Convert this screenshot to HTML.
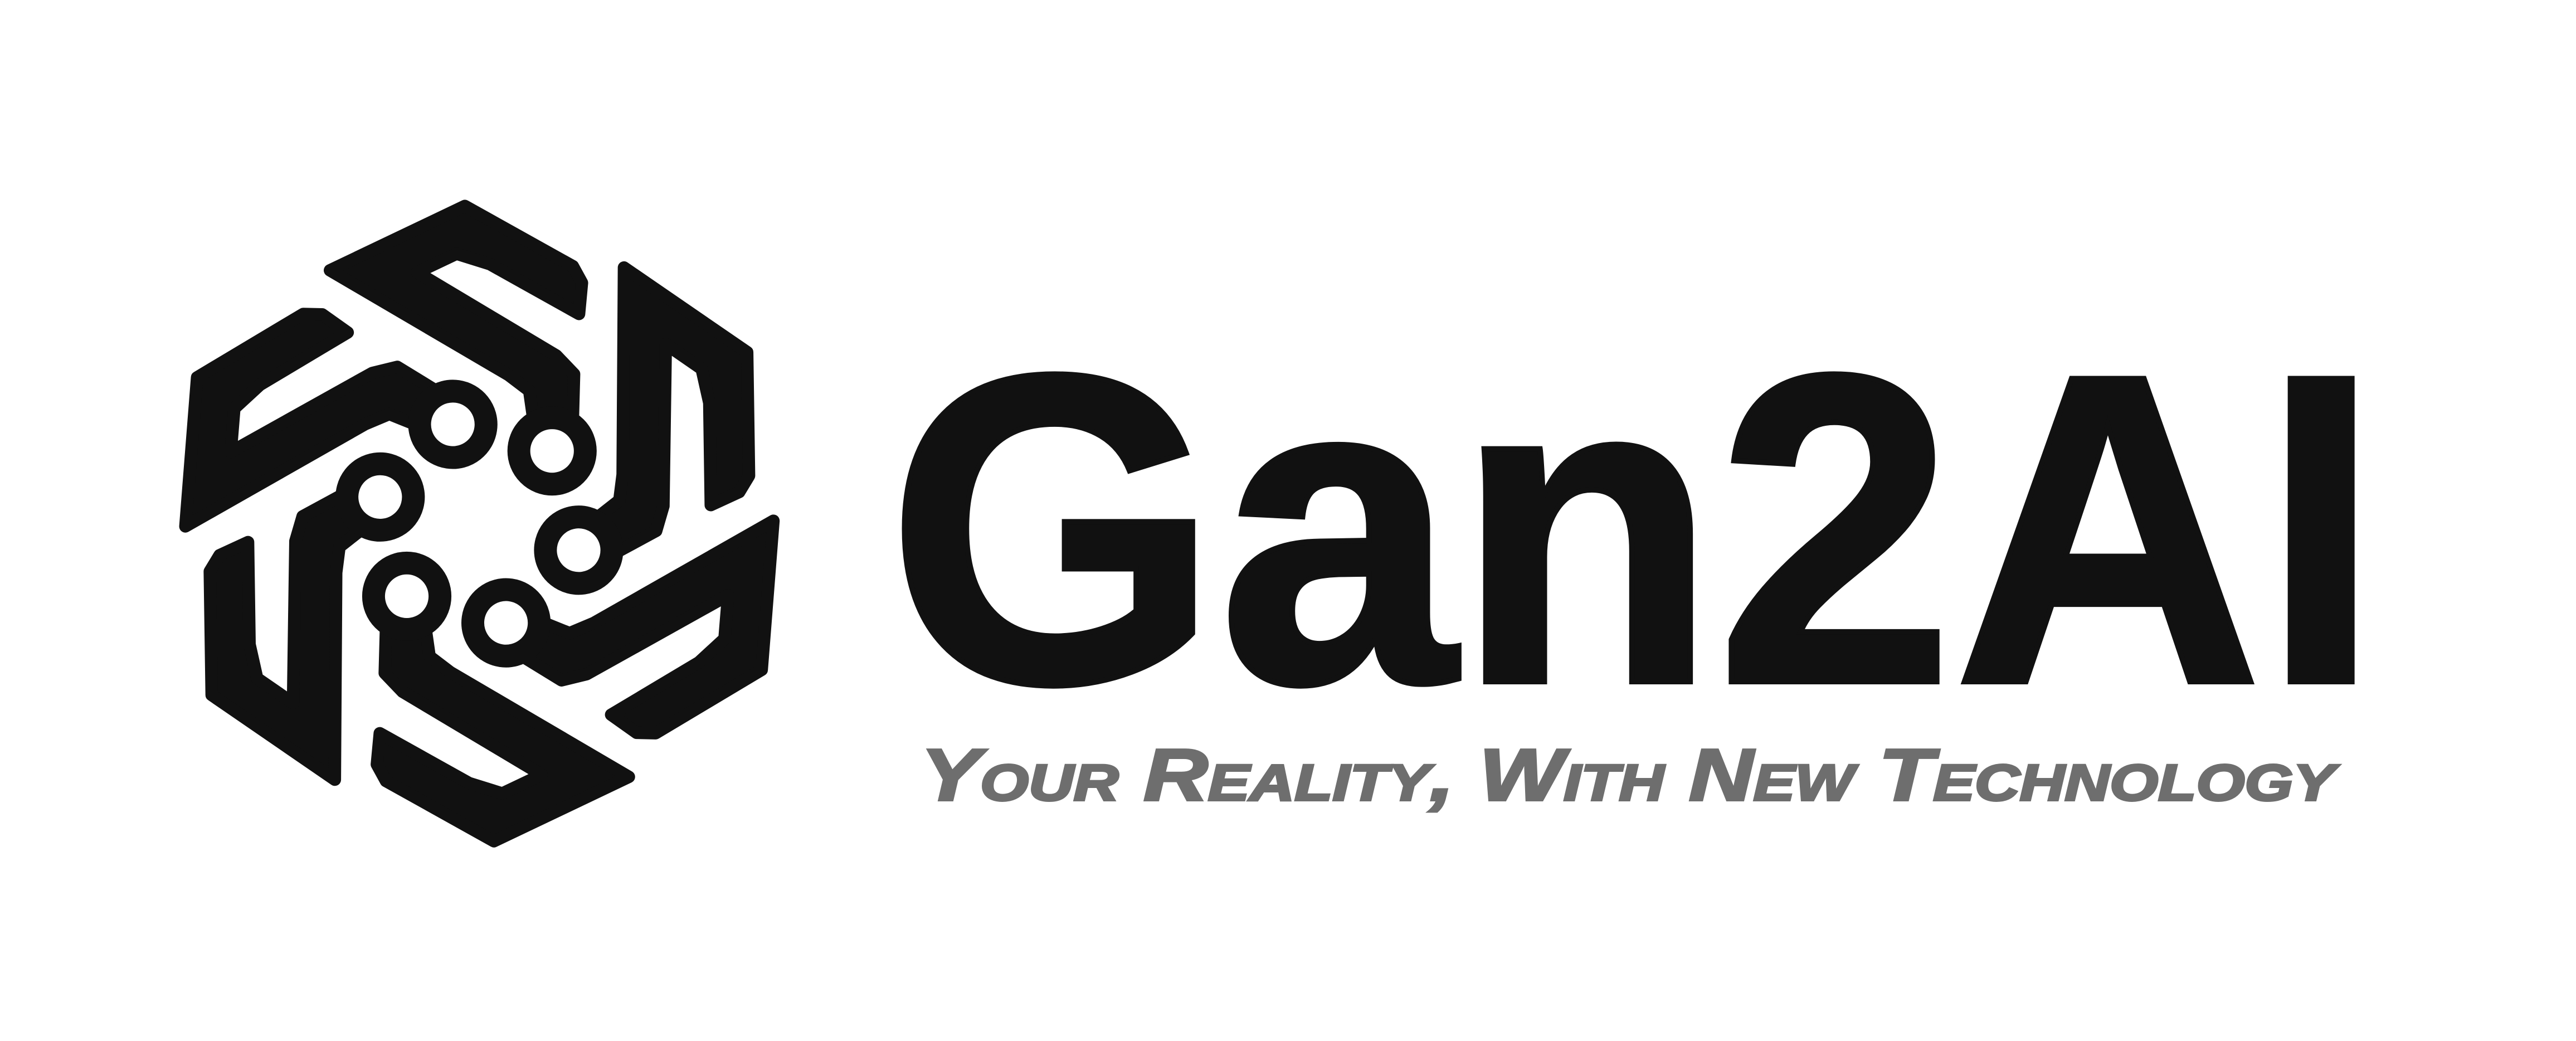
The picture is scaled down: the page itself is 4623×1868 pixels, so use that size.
<!DOCTYPE html>
<html><head><meta charset="utf-8"><style>
html,body{margin:0;padding:0;background:#fff;}
svg{display:block;}
</style></head><body>
<svg width="4623" height="1868" viewBox="0 0 4623 1868" xmlns="http://www.w3.org/2000/svg">
  <rect width="4623" height="1868" fill="#fff"/>
  <g transform="translate(283,351) scale(0.745)">
    <defs>
      <g id="arm">
        <polygon fill="#111" stroke="#111" stroke-width="30" stroke-linejoin="round" points="415,180 740,25 1000,170 1022,210 1015,285 800,165 720,140 625,185 960,385 1003,430 1000,540 905,540 895,470 845,432"/>
        <circle cx="950" cy="615" r="80" fill="none" stroke="#111" stroke-width="55"/>
      </g>
    </defs>
    <use href="#arm" transform="rotate(0 775 790)"/>
    <use href="#arm" transform="rotate(60 775 790)"/>
    <use href="#arm" transform="rotate(120 775 790)"/>
    <use href="#arm" transform="rotate(180 775 790)"/>
    <use href="#arm" transform="rotate(240 775 790)"/>
    <use href="#arm" transform="rotate(300 775 790)"/>
  </g>
  <text x="1592" y="1223" font-family="Liberation Sans, sans-serif" font-weight="bold" font-size="790" fill="#111" stroke="#111" stroke-width="10" textLength="2680" lengthAdjust="spacingAndGlyphs">Gan2AI</text>
  <text x="1652" y="1436" font-family="Liberation Sans, sans-serif" font-weight="bold" font-style="italic" font-size="132" fill="#6e6e6e" stroke="#6e6e6e" stroke-width="4" style="font-variant:small-caps" textLength="2538" lengthAdjust="spacingAndGlyphs">Your Reality, With New Technology</text>
</svg>
</body></html>
